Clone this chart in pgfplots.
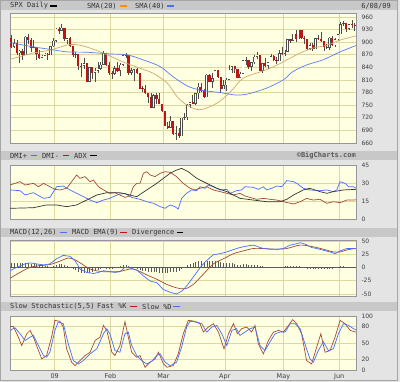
\documentclass[border=0pt]{standalone}
\usepackage{pgfplots}
\pgfplotsset{compat=1.18}
\usepackage{pgfplotstable}
\usepackage{fontspec}
\setmainfont{DejaVu Sans}
\newfontfamily\monofont{DejaVu Sans Mono}
\definecolor{bggray}{RGB}{228,228,228}
\definecolor{hdrgray}{RGB}{200,200,200}
\definecolor{chartbg}{RGB}{255,255,226}
\definecolor{gridcol}{RGB}{220,216,160}
\definecolor{framegray}{RGB}{150,150,150}
\definecolor{sma20}{RGB}{210,168,110}
\definecolor{sma40}{RGB}{90,125,245}
\definecolor{bluel}{RGB}{70,110,255}
\definecolor{redl}{RGB}{165,75,55}
\definecolor{candlered}{RGB}{190,20,20}
\definecolor{tickcol}{RGB}{60,60,60}

\pgfplotstableread{
i o h l c
0 909.70 916.26 885.38 888.67
1 888.67 908.27 885.45 899.24
2 899.24 904.63 868.73 873.59
3 873.59 880.44 851.35 879.73
4 879.73 884.63 857.72 868.57
5 868.57 914.66 868.57 913.18
6 913.18 918.85 895.94 904.42
7 904.42 911.02 877.44 885.28
8 885.28 905.47 883.02 887.88
9 887.88 887.88 857.09 871.63
10 871.63 880.44 860.10 863.16
11 863.16 869.79 861.44 868.15
12 868.15 873.74 866.52 872.80
13 872.80 873.70 857.07 869.42
14 869.42 891.12 869.42 890.64
15 890.64 910.32 889.67 903.25
16 903.25 934.73 899.35 931.80
17 931.80 936.63 919.53 927.45
18 927.45 943.85 927.28 934.70
19 934.70 934.70 902.37 906.65
20 906.65 910.00 896.81 909.73
21 909.73 911.93 888.31 890.35
22 890.35 890.40 864.32 870.26
23 870.26 877.02 862.02 871.79
24 871.79 871.79 833.44 842.62
25 842.62 851.59 817.04 843.74
26 843.74 863.24 836.43 850.12
27 850.12 850.12 804.47 805.22
28 805.22 841.72 804.30 840.24
29 840.24 840.24 811.29 827.50
30 827.50 838.22 806.07 831.95
31 831.95 852.53 827.69 836.57
32 836.57 852.45 834.26 845.71
33 845.71 877.86 845.71 874.09
34 874.09 874.09 844.15 845.14
35 845.14 851.66 821.67 825.88
36 825.88 830.78 812.87 825.44
37 825.44 842.60 821.98 838.51
38 838.51 851.85 829.18 832.23
39 832.23 850.55 819.91 845.85
40 845.85 870.75 843.82 868.60
41 868.60 875.01 861.65 869.89
42 869.89 869.89 822.99 827.16
43 827.16 838.22 822.99 833.74
44 833.74 835.48 808.06 835.19
45 835.19 839.43 825.21 826.84
46 826.84 826.84 789.17 789.17
47 789.17 796.17 780.43 788.42
48 788.42 797.58 777.03 778.94
49 778.94 778.94 754.25 770.05
50 770.05 777.85 742.37 743.33
51 743.33 775.49 743.33 773.14
52 773.14 780.12 752.89 764.90
53 764.90 779.42 751.75 752.83
54 752.83 752.83 734.52 735.09
55 735.09 735.09 699.70 700.82
56 700.82 709.46 692.86 696.33
57 696.33 724.12 696.33 712.87
58 712.87 712.87 679.28 682.55
59 682.55 699.96 666.79 683.38
60 683.38 695.27 672.88 676.53
61 676.53 719.60 676.53 719.60
62 719.60 731.92 713.85 721.36
63 721.36 752.63 714.76 750.74
64 750.74 758.29 742.46 756.55
65 756.55 774.53 753.37 753.89
66 753.89 778.12 749.93 778.12
67 778.12 803.04 765.64 794.35
68 794.35 803.24 781.82 784.04
69 784.04 788.91 766.20 768.54
70 768.54 823.37 768.54 822.92
71 822.92 823.93 805.48 806.12
72 806.12 826.78 791.37 813.88
73 813.88 832.98 813.88 832.86
74 832.86 832.86 814.84 815.94
75 815.94 815.94 779.81 787.53
76 787.53 810.48 787.53 797.87
77 797.87 813.62 783.32 811.08
78 811.08 845.61 811.08 834.38
79 834.38 842.60 826.70 842.50
80 842.50 842.50 826.83 835.48
81 835.48 835.48 814.36 815.55
82 815.55 828.42 814.84 825.16
83 825.16 856.91 825.16 856.56
84 856.56 864.31 845.35 858.73
85 858.73 858.73 836.25 841.50
86 841.50 853.50 831.98 852.06
87 852.06 870.35 847.04 865.30
88 865.30 875.63 860.87 869.60
89 869.60 869.60 832.39 832.39
90 832.39 850.09 826.83 850.08
91 850.08 861.78 840.57 843.55
92 843.55 852.87 835.58 851.92
93 851.92 871.80 851.92 866.23
94 866.23 868.83 854.65 857.51
95 857.51 864.48 847.12 855.16
96 855.16 882.06 855.16 873.64
97 873.64 888.70 868.51 872.81
98 872.81 880.48 866.10 877.52
99 877.52 907.85 877.52 907.24
100 907.24 907.70 897.34 903.80
101 903.80 920.28 903.80 919.53
102 919.53 929.57 901.36 907.39
103 907.39 930.17 907.39 929.23
104 929.23 929.23 908.68 909.24
105 909.24 915.57 896.46 908.35
106 908.35 908.35 882.04 883.92
107 883.92 898.36 882.52 893.07
108 893.07 896.97 878.94 882.88
109 882.88 909.71 882.88 909.71
110 909.71 916.39 905.22 908.13
111 908.13 924.60 901.37 903.47
112 903.47 903.47 879.00 888.33
113 888.33 896.65 883.75 887.00
114 887.00 911.76 881.46 910.33
115 910.33 913.84 891.87 893.06
116 893.06 909.45 887.60 906.83
117 906.83 920.02 903.56 919.14
118 919.14 947.77 919.14 942.87
119 942.87 949.38 938.46 944.74
120 944.74 944.74 923.85 931.76
121 931.76 942.47 929.34 942.46
122 942.46 951.69 934.13 940.09
123 940.09 946.33 926.44 939.14
}\ohlc

\pgfplotsset{
  panel/.style={
    scale only axis, width=346pt,
    xmin=-0.5, xmax=123.5,
    axis background/.style={fill=chartbg},
    axis line style={draw=framegray, line width=0.6pt},
    xmajorgrids, ymajorgrids,
    grid style={draw=gridcol, line width=0.7pt},
    xtick={15.5,35.5,54.5,76.5,97.5,117.5},
    xticklabels={},
    ytick pos=right, yticklabel pos=right,
    major tick length=0pt,
    /pgf/number format/assume math mode=true,
    yticklabel style={font=\fontsize{6}{7}\selectfont, text=tickcol, anchor=west, xshift=2pt},
    xticklabel style={font=\fontsize{6.5}{7}\selectfont, text=tickcol},
  },
  ln/.style={line width=0.7pt, mark=none},
  ebar/.style={draw=none, mark=none, forget plot,
    error bars/.cd, y dir=plus, y explicit, error mark=none},
}

\begin{document}
\begin{tikzpicture}[x=1pt,y=1pt,
  hdr/.style={anchor=west, inner sep=0pt, font=\monofont\fontsize{7}{8}\selectfont, text=black!80},
  sw/.style={line width=1.8pt}]
\useasboundingbox (0,0) rectangle (400,382);
\fill[bggray] (0,0) rectangle (400,382);
\draw[gray!70, line width=0.8pt] (0.5,1.5) rectangle (397.5,381.5);
% header bars
\fill[hdrgray] (1,372) rectangle (397,381);
\fill[hdrgray] (1,222) rectangle (397,231);
\fill[hdrgray] (1,145) rectangle (397,154);
\fill[hdrgray] (1,71) rectangle (397,80);

% ---------- price panel ----------
\begin{axis}[panel, at={(10pt,239pt)}, anchor=south west, height=130pt,
  ymin=660, ymax=969.5, ytick={660,690,...,960}]
% wicks
\addplot[ebar, error bar style={draw=black!70, line width=0.55pt}]
  table[x=i, y expr={min(\thisrow{l},\thisrow{o})},
        y error plus expr={max(\thisrow{h},\thisrow{o})-min(\thisrow{l},\thisrow{o})}] {\ohlc};
% down bodies
\addplot[ebar, error bar style={draw=candlered, line width=2.2pt}]
  table[x=i, y expr={\thisrow{c}<\thisrow{o} ? \thisrow{c} : nan},
        y error plus expr={max(\thisrow{o}-\thisrow{c},1.5)}] {\ohlc};
% up bodies (hollow)
\addplot[ebar, error bar style={draw=black!70, line width=2.5pt}]
  table[x=i, y expr={\thisrow{c}<\thisrow{o} ? nan : \thisrow{o}},
        y error plus expr={max(\thisrow{c}-\thisrow{o},1.5)}] {\ohlc};
\addplot[ebar, error bar style={draw=white, line width=1.3pt}]
  table[x=i, y expr={\thisrow{c}<\thisrow{o} ? nan : \thisrow{o}+1.2},
        y error plus expr={max(\thisrow{c}-\thisrow{o}-2.4,0)}] {\ohlc};
% SMA 20
\addplot[ln, sma20, smooth] coordinates {
(-0.5,859) (7.7,874) (13.8,881) (19.9,893) (23.5,894) (28.2,886) (34.3,870) (40,853)
(46.1,838) (50.8,826) (55.8,803) (59.4,770) (63,750) (67.6,739) (73.7,755) (78.4,781)
(83,814) (89.1,829) (93.8,841) (98.8,858) (103.4,874) (108.1,886) (113.2,893) (117.8,905) (123.5,915)};
% SMA 40
\addplot[ln, sma40, smooth] coordinates {
(-0.5,899) (7.7,889) (13.8,883) (19.9,877) (27.1,876) (35.3,872) (41.4,870) (47.2,858)
(53.3,842) (57.9,818) (63,796) (67.6,786) (74.8,780) (80.9,774) (85.5,778) (91.6,791)
(97.4,810) (100.9,830) (105.9,846) (111.7,858) (117.8,877) (123.5,892)};
\end{axis}

% ---------- DMI panel ----------
\begin{axis}[panel, at={(10pt,163pt)}, anchor=south west, height=54pt,
  ymin=0, ymax=45, ytick={0,15,30,45}]
\addplot[ln, bluel] coordinates {
(-0.5,24.2) (3.1,23.6) (4.9,20.0) (7.9,21.9) (11.5,17.2) (13.8,18.0) (16.2,26.9) (18.6,27.5)
(21.0,24.2) (24.6,20.0) (28.2,15.8) (30.6,13.6) (33.0,15.8) (35.3,17.2) (37.1,19.2) (38.9,20.8)
(40.7,21.4) (43.1,18.0) (46.1,16.4) (48.5,14.4) (50.9,13.1) (53.3,10.3) (55.1,8.9) (56.9,11.7)
(58.6,10.3) (59.8,8.3) (61.0,17.2) (62.8,21.4) (64.6,24.2) (66.4,23.6) (67.6,26.9) (69.4,25.6)
(70.6,28.3) (72.4,26.9) (74.8,24.2) (77.2,24.7) (78.4,21.4) (80.7,23.6) (82.5,24.2) (83.7,26.9)
(86.7,26.4) (88.5,24.7) (90.3,26.9) (91.5,24.2) (93.3,25.6) (95.1,27.5) (96.9,26.9) (98.7,32.0)
(101.1,31.1) (102.3,29.7) (104.6,25.6) (107.0,24.2) (110.6,23.6) (113.0,24.2) (115.4,22.8)
(116.6,24.2) (117.8,31.1) (119.6,29.7) (120.8,26.9) (122.6,26.9) (123.5,25.6)};
\addplot[ln, redl] coordinates {
(-0.5,28.3) (3.1,31.1) (4.9,28.3) (7.9,29.7) (9.7,26.9) (11.5,29.7) (13.8,26.9) (15.6,24.7)
(17.4,24.2) (19.8,25.6) (21.6,31.1) (23.4,36.7) (24.6,33.9) (26.4,35.3) (28.2,31.1) (29.4,32.5)
(31.2,26.9) (33.0,24.2) (35.3,21.4) (37.1,21.9) (38.9,20.0) (40.7,18.0) (42.5,19.2) (43.7,26.9)
(44.9,29.7) (46.1,29.7) (47.3,38.1) (48.5,39.4) (49.7,36.7) (51.5,35.3) (53.3,38.1) (55.1,39.4)
(56.9,38.9) (59.2,35.3) (61.6,29.7) (64.0,25.6) (65.8,24.2) (67.6,25.6) (70.0,26.9) (72.4,24.2)
(74.8,22.8) (77.2,21.4) (79.6,20.0) (81.9,21.4) (83.7,19.2) (85.5,18.0) (87.9,16.4) (90.3,17.2)
(92.7,16.4) (95.1,15.8) (97.5,14.4) (99.9,13.1) (101.1,12.5) (103.5,14.4) (105.8,17.2)
(108.2,15.8) (110.6,16.4) (113.0,13.1) (115.4,14.4) (117.8,13.6) (120.2,15.8) (122.6,15.8) (123.5,16.0)};
\addplot[ln, black!80] coordinates {
(-0.5,8.9) (7.9,9.4) (12.6,11.7) (16.2,11.7) (19.8,10.3) (23.4,11.7) (27.0,15.8) (30.6,20.0)
(34.2,21.9) (38.9,21.9) (42.5,20.0) (44.9,18.6) (48.5,24.2) (52.1,29.7) (54.5,33.9) (56.9,38.1)
(59.2,40.8) (61.0,42.2) (63.4,39.4) (66.4,33.9) (70.0,29.7) (73.6,25.6) (77.2,22.8) (79.6,20.0)
(81.9,17.2) (86.7,15.8) (91.5,14.4) (96.3,14.4) (98.7,16.4) (101.1,20.0) (104.6,24.2)
(107.0,25.6) (110.6,22.8) (113.0,21.4) (115.4,22.8) (119.0,24.2) (123.5,24.7)};
\end{axis}

% ---------- MACD panel ----------
\begin{axis}[panel, at={(10pt,86pt)}, anchor=south west, height=56pt,
  ymin=-53.8, ymax=51.9, ytick={-50,-25,0,25,50}]
\addplot[ycomb, black!65, line width=0.4pt, mark=none] coordinates {
(0,8) (1,8.5) (2,9) (3,9) (4,8.5) (5,8) (6,8) (7,7) (8,6.5) (9,6) (10,5) (11,4) (12,3) (13,2)
(14,1.5) (15,3) (16,5) (17,6) (18,6) (19,5) (20,3) (21,1) (22,-2) (23,-5) (24,-8) (25,-10)
(26,-11) (27,-11) (28,-10) (29,-8) (30,-6) (31,-4) (32,-2) (33,-1) (34,-2) (35,-2) (36,-2)
(37,-1) (38,1) (39,3) (40,4) (41,4) (42,2) (43,0) (44,-1) (45,-2) (46,-4) (47,-6) (48,-7)
(49,-8) (50,-9) (51,-8) (52,-9) (53,-10) (54,-11) (55,-11) (56,-10) (57,-9) (58,-9) (59,-8)
(60,-6) (61,-3) (62,1) (63,4) (64,7) (65,8) (66,10) (67,12) (68,12) (69,11) (70,13) (71,13)
(72,12) (73,13) (74,12) (75,10) (76,9) (77,8) (78,8) (79,8) (80,7) (81,5) (82,5) (83,6) (84,6)
(85,5) (86,4) (87,4) (88,4) (89,2) (90,2) (91,1) (92,1) (93,1) (94,0.5) (95,0.5) (96,1) (97,1)
(98,2) (99,3) (100,3) (101,3) (102,2) (103,2) (104,1) (105,-1) (106,-2) (107,-2) (108,-3)
(109,-2) (110,-2) (111,-3) (112,-3) (113,-3) (114,-2) (115,-2) (116,-1) (117,1) (118,2) (119,2)
(120,1) (121,1) (122,1) (123,1)};
\addplot[line width=0.5pt, gray!70!black, mark=none] coordinates {(-0.5,0) (123.5,0)};
\addplot[ln, redl, smooth] coordinates {
(-0.5,-20.3) (3.1,-9.3) (6.7,0.3) (10.3,3.6) (13.8,5.5) (17.4,12.0) (20.4,17.8) (22.8,14.5)
(25.8,4.8) (28.2,-2.9) (31.8,-7.4) (35.3,-8.0) (38.9,-7.4) (42.5,-2.9) (44.9,-4.8) (48.5,-13.9)
(52.1,-22.2) (55.7,-31.9) (59.2,-38.4) (62.2,-40.3) (65.2,-31.9) (68.8,-12.6) (72.4,6.8)
(76.0,16.5) (79.6,26.1) (83.1,31.3) (86.7,35.8) (90.3,35.8) (95.1,34.5) (98.7,35.8)
(103.5,42.3) (108.2,39.0) (111.8,34.5) (115.4,29.4) (117.8,29.4) (120.8,33.9) (123.5,35.8)};
\addplot[ln, bluel] coordinates {
(-0.5,-6.1) (1.9,0.3) (4.9,6.8) (6.7,8.7) (9.1,6.8) (11.5,4.8) (13.8,6.8) (16.2,16.5)
(18.6,22.9) (21.0,21.0) (22.8,13.2) (24.6,-2.9) (27.0,-9.3) (29.4,-11.3) (31.2,-9.3)
(33.0,-6.1) (35.3,-8.0) (37.1,-9.3) (38.9,-8.0) (40.7,0.3) (42.5,-1.0) (44.9,-4.8)
(47.3,-15.8) (49.7,-25.5) (52.1,-28.7) (54.5,-41.6) (56.9,-46.8) (59.2,-50.0) (61.0,-44.8)
(62.8,-35.1) (64.6,-22.2) (66.4,-9.3) (68.2,3.6) (70.0,13.2) (72.4,24.2) (74.8,26.1)
(77.2,29.4) (79.6,33.9) (81.9,37.7) (84.3,40.3) (86.7,42.3) (88.5,39.0) (90.3,35.8)
(92.7,34.5) (95.1,34.5) (97.5,35.8) (99.9,42.3) (101.7,44.2) (103.5,46.8) (105.2,44.2)
(107.6,37.7) (109.4,35.8) (111.8,32.6) (114.2,29.4) (116.0,26.1) (117.8,31.3) (120.2,35.8) (123.5,35.8)};
\end{axis}

% ---------- Stochastic panel ----------
\begin{axis}[panel, at={(10pt,12pt)}, anchor=south west, height=54pt,
  ymin=0, ymax=100, ytick={0,20,50,80,100},
  xticklabels={09,Feb,Mar,Apr,May,Jun}]
\addplot[ln, redl] coordinates {
(-0.5,80.7) (0.7,80.7) (2.5,60.9) (3.7,45.3) (5.5,67.1) (6.7,73.3) (7.9,60.9) (9.7,36.0)
(10.9,20.5) (12.6,26.7) (14.4,60.9) (15.6,91.9) (17.4,90.1) (18.6,79.5) (19.8,39.1) (21.6,14.3)
(22.8,8.1) (24.6,17.4) (26.4,26.7) (28.2,32.9) (30.0,54.6) (31.8,60.9) (33.0,82.6) (34.2,73.3)
(36.0,32.9) (37.1,26.7) (38.9,45.3) (40.7,89.5) (41.9,60.9) (43.1,32.9) (44.9,23.6) (46.1,26.7)
(47.9,5.0) (49.7,14.3) (51.5,20.5) (52.7,32.9) (54.5,11.2) (55.7,5.0) (58.0,8.1) (59.8,29.8)
(61.6,67.1) (63.4,91.9) (65.2,90.7) (67.6,85.7) (68.8,70.2) (70.6,79.5) (72.4,85.7) (74.2,70.2)
(76.2,39.1) (77.8,67.1) (79.6,85.7) (81.0,67.1) (82.5,76.4) (84.3,79.5) (86.1,70.2) (87.3,82.6)
(88.5,48.4) (90.3,29.8) (92.1,54.6) (93.9,70.2) (95.7,73.3) (97.5,70.2) (99.3,82.6) (100.8,93.2)
(102.3,85.7) (104.0,67.1) (105.8,17.4) (107.6,11.2) (109.4,42.2) (110.9,67.1) (112.4,32.9)
(114.2,36.0) (116.0,60.9) (117.8,91.9) (119.6,85.7) (121.4,73.3) (123.5,70.2)};
\addplot[ln, bluel] coordinates {
(-0.5,73.3) (1.3,78.2) (3.1,67.1) (4.9,54.6) (6.7,60.9) (7.9,64.0) (9.7,45.3) (11.5,26.7)
(12.6,23.6) (13.8,32.9) (15.6,73.3) (16.8,88.9) (18.6,85.7) (20.4,48.4) (22.2,17.4) (24.0,11.2)
(25.8,17.4) (28.2,29.8) (30.6,39.1) (33.0,67.1) (34.2,76.4) (35.3,67.1) (37.1,36.0) (38.9,32.9)
(40.7,67.1) (41.9,70.2) (43.1,45.3) (44.9,26.7) (46.7,17.4) (48.5,11.2) (50.3,16.1) (52.1,26.7)
(53.3,29.8) (55.1,14.3) (56.9,8.1) (59.2,14.3) (61.0,42.2) (62.8,79.5) (64.0,90.1) (66.4,88.9)
(68.2,85.7) (70.0,70.2) (71.8,79.5) (73.6,82.6) (75.4,67.1) (77.2,45.3) (79.0,73.3) (80.7,76.4)
(81.9,64.0) (83.7,70.2) (85.5,76.4) (87.3,79.5) (89.1,45.3) (90.9,36.0) (92.7,52.2) (94.5,67.1)
(96.3,70.2) (98.1,70.2) (99.9,85.7) (101.7,85.7) (103.5,76.4) (105.2,48.4) (107.0,20.5)
(108.2,14.3) (110.0,36.0) (111.8,52.2) (113.6,36.0) (115.4,39.1) (117.2,67.1) (119.0,85.7)
(120.8,82.6) (122.6,76.4) (123.5,74.5)};
\end{axis}

% ---------- header texts ----------
\node[hdr] at (10,376) {SPX Daily};
\draw[sw, black] (50,376) -- (57,376);
\node[hdr] at (87,376) {SMA(20)};
\draw[sw, orange!90!yellow] (120,376) -- (127,376);
\node[hdr] at (135,376) {SMA(40)};
\draw[sw, bluel] (167,376) -- (174,376);
\node[hdr, anchor=east] at (391,376) {6/08/09};

\node[hdr] at (10,226.5) {DMI+};
\draw[sw, bluel] (31,226.5) -- (37,226.5);
\node[hdr] at (42,226.5) {DMI-};
\draw[sw, candlered] (63,226.5) -- (69,226.5);
\node[hdr] at (74,226.5) {ADX};
\draw[sw, black] (90,226.5) -- (97,226.5);
\node[hdr, anchor=east, font=\monofont\bfseries\fontsize{7}{8}\selectfont, text=black!65] at (356,226.5) {©BigCharts.com};

\node[hdr] at (10,149.5) {MACD(12,26)};
\draw[sw, bluel] (60,149.5) -- (67,149.5);
\node[hdr] at (72,149.5) {MACD EMA(9)};
\draw[sw, candlered] (120,149.5) -- (127,149.5);
\node[hdr] at (132,149.5) {Divergence};
\draw[sw, black] (177,149.5) -- (183,149.5);

\node[hdr] at (10,75.5) {Slow Stochastic(5,5)};
\node[hdr] at (97,75.5) {Fast \%K};
\draw[sw, candlered] (130,75.5) -- (137,75.5);
\node[hdr] at (142,75.5) {Slow \%D};
\draw[sw, bluel] (173,75.5) -- (180,75.5);
\end{tikzpicture}
\end{document}
